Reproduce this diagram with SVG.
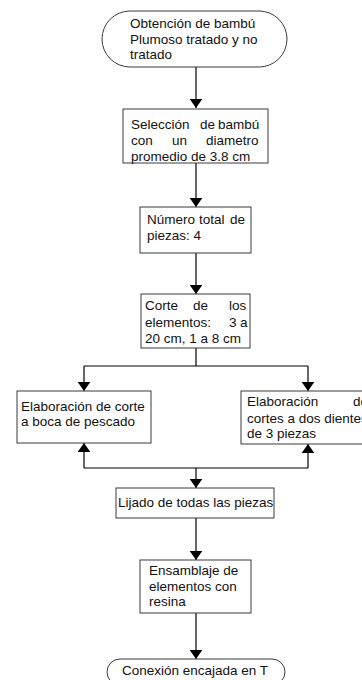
<svg xmlns="http://www.w3.org/2000/svg" width="362" height="680" viewBox="0 0 362 680">
<style>
.box{fill:#fff;stroke:#3a3a3a;stroke-width:1}
.t{font-family:"Liberation Sans",Arial,sans-serif;font-size:13.5px;fill:#111}
.c{fill:none;stroke:#000;stroke-width:1.2}
</style>
<defs>
<marker id="ah" viewBox="0 0 10 14" refX="10" refY="7" markerWidth="9" markerHeight="14" markerUnits="userSpaceOnUse" orient="auto">
<path d="M0,0 L10,7 L0,14 z" fill="#000"/>
</marker>
</defs>
<rect width="362" height="680" fill="#fff"/>
<g id="connectors">
<path class="c" d="M196,67 V108" marker-end="url(#ah)"/>
<path class="c" d="M196,163 V207" marker-end="url(#ah)"/>
<path class="c" d="M196,253 V294" marker-end="url(#ah)"/>
<path class="c" d="M196,348 V366 M84,366 H308"/>
<path class="c" d="M84,366 V391" marker-end="url(#ah)"/>
<path class="c" d="M308,366 V391" marker-end="url(#ah)"/>
<path class="c" d="M84,468 H308"/>
<path class="c" d="M84,468 V443" marker-end="url(#ah)"/>
<path class="c" d="M308,468 V444" marker-end="url(#ah)"/>
<path class="c" d="M196,468 V488" marker-end="url(#ah)"/>
<path class="c" d="M196,518 V560" marker-end="url(#ah)"/>
<path class="c" d="M196,613 V659" marker-end="url(#ah)"/>
</g>
<g id="n1">
<rect class="box" x="102" y="11" width="185" height="56" rx="28" ry="28"/>
<text class="t" x="130" y="28">Obtención de bambú</text>
<text class="t" x="130" y="44">Plumoso tratado y no</text>
<text class="t" x="130" y="59">tratado</text>
</g>
<g id="n2">
<rect class="box" x="123" y="109" width="145" height="54"/>
<text class="t" y="129"><tspan x="131">Selección</tspan><tspan x="200">de</tspan><tspan x="218">bambú</tspan></text>
<text class="t" y="145"><tspan x="131">con</tspan><tspan x="172">un</tspan><tspan x="206">diametro</tspan></text>
<text class="t" x="131" y="161">promedio de 3.8 cm</text>
</g>
<g id="n3">
<rect class="box" x="140" y="207" width="111" height="46"/>
<text class="t" y="224"><tspan x="147">Número</tspan><tspan x="199">total</tspan><tspan x="230">de</tspan></text>
<text class="t" x="147" y="240">piezas: 4</text>
</g>
<g id="n4">
<rect class="box" x="141" y="294" width="109" height="54"/>
<text class="t" y="310"><tspan x="145">Corte</tspan><tspan x="193">de</tspan><tspan x="229">los</tspan></text>
<text class="t" y="327"><tspan x="145">elementos:</tspan><tspan x="229">3</tspan><tspan x="240">a</tspan></text>
<text class="t" x="145" y="343">20 cm, 1 a 8 cm</text>
</g>
<g id="n5">
<rect class="box" x="17" y="391" width="134" height="52"/>
<text class="t" x="21" y="411">Elaboración de corte</text>
<text class="t" x="21" y="426">a boca de pescado</text>
</g>
<g id="n6">
<rect class="box" x="241" y="391" width="134" height="53"/>
<text class="t" y="406"><tspan x="247">Elaboración</tspan><tspan x="353">de</tspan></text>
<text class="t" x="247" y="423">cortes a dos dientes</text>
<text class="t" x="247" y="438">de 3 piezas</text>
</g>
<g id="n7">
<rect class="box" x="116" y="488" width="158" height="30"/>
<text class="t" x="118" y="507">Lijado de todas las piezas</text>
</g>
<g id="n8">
<rect class="box" x="140" y="560" width="111" height="53"/>
<text class="t" x="149" y="575">Ensamblaje de</text>
<text class="t" x="149" y="591">elementos con</text>
<text class="t" x="149" y="606">resina</text>
</g>
<g id="n9">
<rect class="box" x="107" y="659" width="178" height="26" rx="13" ry="13"/>
<text class="t" x="122" y="675">Conexión encajada en T</text>
</g>
</svg>
